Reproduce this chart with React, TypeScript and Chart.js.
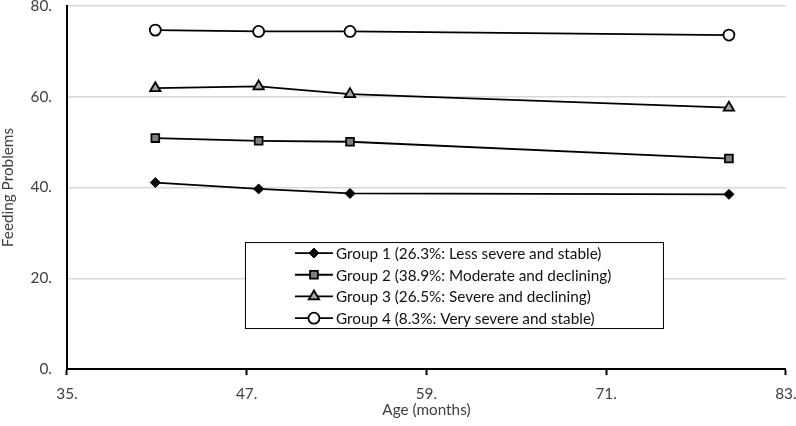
import React, { useEffect, useRef } from "react";
import { Chart, registerables } from "chart.js";
import { drawPoint } from "chart.js/helpers";

Chart.register(...registerables);

const ages = [40.9, 47.8, 53.9, 79.2];
const group1 = [41.1, 39.7, 38.7, 38.5];
const group2 = [50.9, 50.3, 50.1, 46.4];
const group3 = [61.9, 62.3, 60.6, 57.6];
const group4 = [74.7, 74.4, 74.4, 73.6];
const groupLabels = [
  "Group 1 (26.3%: Less severe and stable)",
  "Group 2 (38.9%: Moderate and declining)",
  "Group 3 (26.5%: Severe and declining)",
  "Group 4 (8.3%: Very severe and stable)",
];
const xTicks = { min: 35, max: 83, step: 12 };
const yTicks = { min: 0, max: 80, step: 20 };

const FONT = "Lato, 'Open Sans', sans-serif";
const FS = 15.3;
const CANVAS_W = 806;

const insideLegend = {
  id: "insideLegend",
  afterDraw(chart: any, _args: any, opts: any) {
    const ctx = chart.ctx;
    const a = chart.chartArea;
    const x0 = a.left + opts.offsetX;
    const y0 = a.top + opts.offsetY;
    ctx.save();
    ctx.fillStyle = "#fff";
    ctx.fillRect(x0, y0, opts.width, opts.height);
    ctx.strokeStyle = "#000";
    ctx.lineWidth = 1;
    ctx.strokeRect(x0 + 0.5, y0 + 0.5, opts.width, opts.height);
    chart.data.datasets.forEach((ds: any, i: number) => {
      const y = y0 + opts.firstRow + i * opts.rowH;
      ctx.strokeStyle = "#000";
      ctx.lineWidth = ds.borderWidth;
      ctx.beginPath();
      ctx.moveTo(x0 + opts.lineStart, y);
      ctx.lineTo(x0 + opts.lineEnd, y);
      ctx.stroke();
      ctx.fillStyle = ds.pointBackgroundColor;
      ctx.strokeStyle = ds.pointBorderColor;
      ctx.lineWidth = ds.pointBorderWidth;
      drawPoint(
        ctx,
        {
          pointStyle: ds.pointStyle,
          radius: ds.pointRadius,
          borderWidth: ds.pointBorderWidth,
          rotation: 0,
        } as any,
        x0 + (opts.lineStart + opts.lineEnd) / 2,
        y
      );
      ctx.fillStyle = "#111";
      ctx.font = `${opts.fontSize}px ${FONT}`;
      ctx.textBaseline = "middle";
      ctx.textAlign = "left";
      ctx.fillText(ds.label, x0 + opts.textX, y + 1);
    });
    ctx.restore();
  },
};

export default function App() {
  const ref = useRef<HTMLCanvasElement>(null);
  useEffect(() => {
    if (!ref.current) return;
    const mk = (vals: number[]) => ages.map((a, i) => ({ x: a, y: vals[i] }));
    const styles = [
      { pointStyle: "rectRot", pointRadius: 5, pointBackgroundColor: "#000", pointBorderWidth: 1 },
      { pointStyle: "rect", pointRadius: 5.5, pointBackgroundColor: "#7f7f7f", pointBorderWidth: 1.8 },
      { pointStyle: "triangle", pointRadius: 6, pointBackgroundColor: "#a6a6a6", pointBorderWidth: 1.8 },
      { pointStyle: "circle", pointRadius: 5.5, pointBackgroundColor: "#fff", pointBorderWidth: 1.8 },
    ];
    const series = [group1, group2, group3, group4];
    const chart = new Chart(ref.current, {
      type: "line",
      data: {
        datasets: series.map((s, i) => ({
          label: groupLabels[i],
          data: mk(s),
          borderColor: "#000",
          borderWidth: 1.8,
          pointBorderColor: "#000",
          pointHoverRadius: styles[i].pointRadius,
          clip: 10,
          ...styles[i],
        })) as any,
      },
      options: {
        responsive: false,
        animation: false,
        devicePixelRatio: 1,
        layout: { autoPadding: false, padding: 0 },
        plugins: {
          legend: { display: false },
          tooltip: { enabled: false },
          insideLegend: {
            offsetX: 178,
            offsetY: 236,
            width: 418,
            height: 86,
            firstRow: 11,
            rowH: 21.7,
            lineStart: 50,
            lineEnd: 88,
            textX: 91,
            fontSize: FS,
          },
        } as any,
        scales: {
          x: {
            type: "linear",
            min: xTicks.min,
            max: xTicks.max,
            ticks: {
              stepSize: xTicks.step,
              callback: (v: any) => `${v}.`,
              color: "#404040",
              font: { family: FONT, size: FS, lineHeight: 1.2 },
              padding: 9.5,
              maxRotation: 0,
            },
            grid: {
              drawOnChartArea: false,
              drawTicks: true,
              tickLength: 6,
              tickColor: "#000",
              tickWidth: 2,
            },
            border: { color: "#000", width: 2 },
            title: {
              display: true,
              text: "Age (months)",
              color: "#404040",
              font: { family: FONT, size: FS, lineHeight: 1.2 },
              padding: { top: -11.8, bottom: 7 },
            },
          },
          y: {
            min: yTicks.min,
            max: yTicks.max,
            ticks: {
              stepSize: yTicks.step,
              callback: (v: any) => `${v}.`,
              color: "#404040",
              font: { family: FONT, size: FS, lineHeight: 0.53 },
              padding: 2,
            },
            grid: {
              color: "#d9d9d9",
              lineWidth: 1.5,
              drawTicks: true,
              tickLength: 13,
              tickColor: "rgba(0,0,0,0)",
            },
            border: { color: "#000", width: 2 },
            title: {
              display: true,
              text: "Feeding Problems",
              color: "#404040",
              font: { family: FONT, size: FS, lineHeight: 1 },
              padding: { top: 0, bottom: 13.3 },
            },
          },
        },
      },
      plugins: [insideLegend],
    });
    return () => chart.destroy();
  }, []);
  return (
    <div style={{ position: "absolute", left: 0, top: 0, width: 796, height: 426, background: "#fff", overflow: "hidden" }}>
      <canvas ref={ref} width={CANVAS_W} height={426} style={{ width: CANVAS_W, height: 426, display: "block" }} />
    </div>
  );
}
